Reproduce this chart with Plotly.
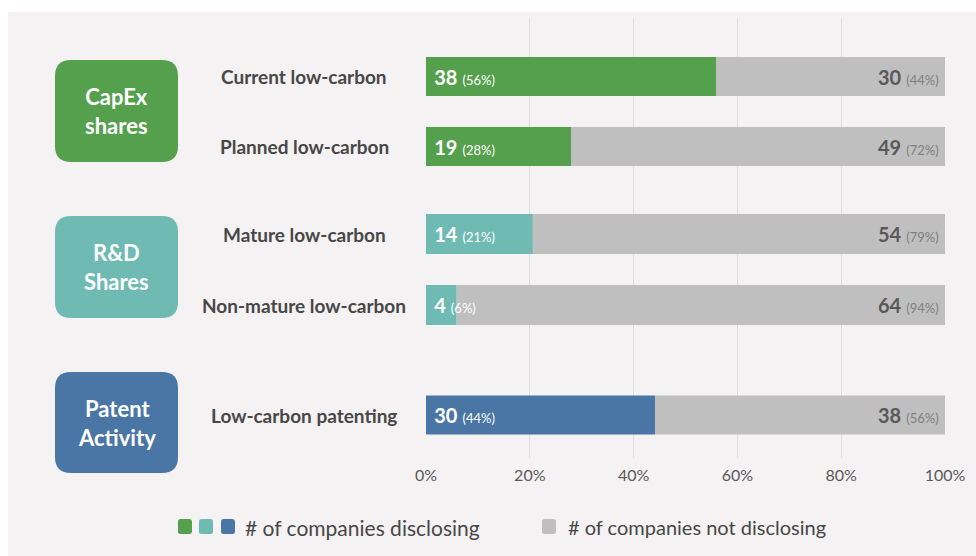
import plotly.graph_objects as go

# ---- data ----
groups = ["CapEx<br>shares", "R&D<br>Shares", "Patent<br>Activity"]
group_colors = ["#55a04c", "#6fbbb3", "#4a76a6"]
rows = [
    ["Current low-carbon", "Planned low-carbon"],
    ["Mature low-carbon", "Non-mature low-carbon"],
    ["Low-carbon patenting"],
]
disclosing = [[38, 19], [14, 4], [30]]
not_disclosing = [[30, 49], [54, 64], [38]]
tick_vals = [0, 20, 40, 60, 80, 100]
tick_text = ["0%", "20%", "40%", "60%", "80%", "100%"]
legend_labels = ["# of companies disclosing", "# of companies not disclosing"]
gray = "#bfbfbf"

# ---- layout helpers (pixel -> paper) ----
FW, FH = 976, 556
L, R, T, B = 426, 945, 18, 458
W, H = R - L, B - T
FONT = "Lato"
NB = "\u00a0"


def px(x):
    return (x - L) / W


def py(y):
    return (B - y) / H


def rrect(x0, y0, x1, y1, r):
    pts = [
        ("M", [(x0 + r, y0)]),
        ("L", [(x1 - r, y0)]),
        ("Q", [(x1, y0), (x1, y0 + r)]),
        ("L", [(x1, y1 - r)]),
        ("Q", [(x1, y1), (x1 - r, y1)]),
        ("L", [(x0 + r, y1)]),
        ("Q", [(x0, y1), (x0, y1 - r)]),
        ("L", [(x0, y0 + r)]),
        ("Q", [(x0, y0), (x0 + r, y0)]),
    ]
    s = ""
    for cmd, ps in pts:
        s += cmd + " " + " ".join(f"{px(a):.5f},{py(b):.5f}" for a, b in ps) + " "
    return s + "Z"


# subplot pixel extents (row spacing ~70 px)
sub_px = [(41.5, 181.5), (198.5, 340.5), (380, 450)]
box_px = [(55, 60, 178, 162), (55, 216, 178, 318), (55, 372, 178, 473)]

fig = go.Figure()

# empty trace so the main (grid / tick) axis is drawn
fig.add_trace(go.Scatter(x=[], y=[], xaxis="x", yaxis="y", showlegend=False,
                         hoverinfo="skip", mode="markers"))

shapes = []
annotations = []

# background panel
shapes.append(dict(type="rect", xref="paper", yref="paper", layer="below",
                   x0=px(8), x1=px(FW + 5), y0=py(FH + 5), y1=py(12),
                   fillcolor="#f4f2f3", line=dict(width=0)))

for gi, (gname, col) in enumerate(zip(groups, group_colors)):
    k = gi + 2
    xa, ya = f"x{k}", f"y{k}"
    total = [d + n for d, n in zip(disclosing[gi], not_disclosing[gi])]
    p_d = [d / t * 100 for d, t in zip(disclosing[gi], total)]
    p_n = [n / t * 100 for n, t in zip(not_disclosing[gi], total)]
    txt_d = [f"{NB}<b>{d}</b> <span style='font-size:13px'>({round(p)}%)</span>"
             for d, p in zip(disclosing[gi], p_d)]
    txt_n = [f"<b>{n}</b> <span style='font-size:13px;color:#7f7f7f'>({round(p)}%){NB}</span>"
             for n, p in zip(not_disclosing[gi], p_n)]
    fig.add_trace(go.Bar(
        y=rows[gi], x=p_n, base=p_d, orientation="h", width=0.56,
        marker=dict(color=gray, line=dict(width=0)),
        text=txt_n, textposition="inside", insidetextanchor="end", textangle=0,
        constraintext="none", cliponaxis=False,
        textfont=dict(family=FONT, size=20, color="#595959"),
        xaxis=xa, yaxis=ya, showlegend=False, hoverinfo="skip"))
    fig.add_trace(go.Bar(
        y=rows[gi], x=p_d, orientation="h", width=0.56,
        marker=dict(color=col, line=dict(width=0)),
        text=txt_d, textposition="inside", insidetextanchor="start", textangle=0,
        constraintext="none", cliponaxis=False,
        textfont=dict(family=FONT, size=20, color="#ffffff"),
        xaxis=xa, yaxis=ya, showlegend=False, hoverinfo="skip"))

    y0p, y1p = sub_px[gi]
    n = len(rows[gi])
    fig.update_layout(**{
        f"xaxis{k}": dict(matches="x", anchor=ya, domain=[0, 1], visible=False,
                          range=[0, 100], automargin=False),
        f"yaxis{k}": dict(anchor=xa, domain=[py(y1p), py(y0p)], type="category",
                          range=[n - 0.5, -0.5], visible=False, automargin=False),
    })
    for r in rows[gi]:
        annotations.append(dict(text=f"<b>{r}</b>", xref="paper", x=px(304),
                                yref=ya, y=r, showarrow=False, xanchor="center",
                                font=dict(family=FONT, size=19, color="#474747")))
    bx0, by0, bx1, by1 = box_px[gi]
    shapes.append(dict(type="path", xref="paper", yref="paper", path=rrect(bx0, by0, bx1, by1, 16),
                       fillcolor=col, line=dict(width=0), layer="above"))
    annotations.append(dict(text=f"<b>{gname}</b>", xref="paper", yref="paper",
                            x=px((bx0 + bx1) / 2), y=py((by0 + by1) / 2),
                            showarrow=False, xanchor="center", yanchor="middle",
                            font=dict(family=FONT, size=22, color="#ffffff")))

# legend (manual)
leg_sq = [(178, group_colors[0]), (199, group_colors[1]), (221, group_colors[2]), (542, gray)]
for x0, c in leg_sq:
    shapes.append(dict(type="path", xref="paper", yref="paper",
                       path=rrect(x0, 519, x0 + 14, 534, 2.5), fillcolor=c, line=dict(width=0)))
annotations.append(dict(text=legend_labels[0], xref="paper", yref="paper",
                        x=px(243), y=py(527), xanchor="left", yanchor="middle", showarrow=False,
                        font=dict(family=FONT, size=21, color="#474747")))
annotations.append(dict(text=legend_labels[1], xref="paper", yref="paper",
                        x=px(566), y=py(527), xanchor="left", yanchor="middle", showarrow=False,
                        font=dict(family=FONT, size=20, color="#474747")))

fig.update_layout(
    width=FW, height=FH,
    margin=dict(l=L, r=FW - R, t=T, b=FH - B, autoexpand=False),
    paper_bgcolor="#ffffff", plot_bgcolor="rgba(0,0,0,0)",
    barmode="overlay",
    xaxis=dict(domain=[0, 1], range=[0, 100], tickmode="array", tickvals=tick_vals,
               ticktext=tick_text, automargin=False,
               showgrid=True, gridcolor="#dedcdc", gridwidth=1, zeroline=False,
               showline=False, ticks="", ticklabelstandoff=6,
               tickfont=dict(family=FONT, size=16, color="#595959"), fixedrange=True),
    yaxis=dict(domain=[0, 1], range=[0, 1], visible=False, automargin=False),
    shapes=shapes, annotations=annotations, showlegend=False,
)

fig.write_html("out.html")
